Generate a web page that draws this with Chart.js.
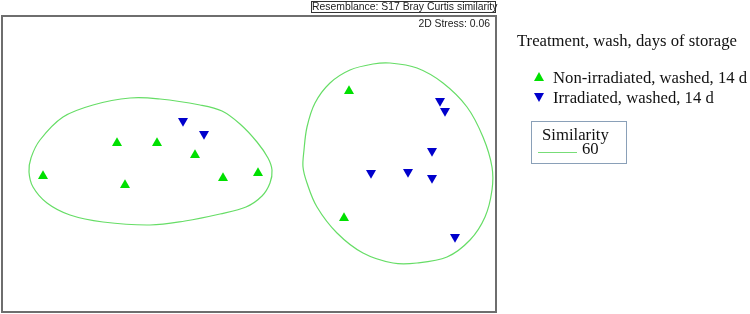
<!DOCTYPE html>
<html>
<head>
<meta charset="utf-8">
<script src="https://cdn.jsdelivr.net/npm/chart.js@4"></script>
<style>
  html, body { margin: 0; padding: 0; background: #fff; }
  #wrap { position: relative; width: 750px; height: 314px; overflow: hidden; }
  canvas { position: absolute; left: 0; top: 0; }
  .sans { position: absolute; font-family: "Liberation Sans", Arial, sans-serif; font-size: 10.4px; line-height: 10px; color: #222; white-space: nowrap; }
  .serif { position: absolute; font-family: "Liberation Serif", "Times New Roman", serif; font-size: 16.7px; line-height: 17px; color: #111; white-space: nowrap; }
  #resem { left: 311px; top: 1px; width: 183px; height: 10px; border: 1px solid #333; text-align: center; }
  #stress { right: 260px; top: 19px; }
  .tri-up { position: absolute; width: 0; height: 0; border-left: 5.5px solid transparent; border-right: 5.5px solid transparent; border-bottom: 9px solid #00e000; }
  .tri-down { position: absolute; width: 0; height: 0; border-left: 5.5px solid transparent; border-right: 5.5px solid transparent; border-top: 9px solid #0000cc; }
  #simbox { position: absolute; left: 531px; top: 121px; width: 94px; height: 41px; border: 1px solid #8aa0b8; }
  #simline { position: absolute; left: 538px; top: 152px; width: 39px; height: 1px; background: #77dd77; }
</style>
</head>
<body>
<div id="wrap">
  <canvas id="c" width="750" height="314"></canvas>
  <div class="sans" id="resem">Resemblance: S17 Bray Curtis similarity</div>
  <div class="sans" id="stress">2D Stress: 0.06</div>
  <div class="serif" style="left:517px; top:32px;">Treatment, wash, days of storage</div>
  <div class="tri-up" style="left:534px; top:72px;"></div>
  <div class="serif" style="left:553px; top:69px;">Non-irradiated, washed, 14 d</div>
  <div class="tri-down" style="left:534px; top:93px;"></div>
  <div class="serif" style="left:553px; top:89px;">Irradiated, washed, 14 d</div>
  <div id="simbox"></div>
  <div class="serif" style="left:542px; top:126px;">Similarity</div>
  <div id="simline"></div>
  <div class="serif" style="left:582px; top:140px;">60</div>
</div>
<script>
// nMDS coordinates (arbitrary units)
const nonIrrX = [-1.32, -0.92, -0.54, -2.06, -1.24, -0.26, 0.09, 1.00, 0.95];
const nonIrrY = [0.21, 0.21, 0.09, -0.12, -0.21, -0.14, -0.09, 0.73, -0.54];
const irrX = [-0.66, -0.45, 1.91, 1.96, 1.83, 1.22, 1.59, 1.83, 2.06];
const irrY = [0.43, 0.30, 0.63, 0.53, 0.13, -0.09, -0.08, -0.14, -0.73];

// similarity 60 contours
const contourAX = [-2.20, -2.18, -2.09, -1.86, -1.56, -1.19, -0.89, -0.49, -0.27, -0.09, 0.08, 0.19, 0.23, 0.21, 0.13, -0.03, -0.29, -0.64, -0.99, -1.46, -1.79, -2.02, -2.16];
const contourAY = [-0.08, 0.06, 0.24, 0.47, 0.59, 0.66, 0.65, 0.59, 0.53, 0.40, 0.22, 0.06, -0.06, -0.19, -0.32, -0.43, -0.50, -0.57, -0.61, -0.58, -0.51, -0.39, -0.23];
const contourBX = [0.55, 0.58, 0.66, 0.81, 1.01, 1.24, 1.41, 1.68, 1.94, 2.18, 2.34, 2.43, 2.43, 2.36, 2.21, 1.98, 1.68, 1.44, 1.14, 0.88, 0.68, 0.58, 0.54];
const contourBY = [0.14, 0.37, 0.61, 0.81, 0.94, 1.00, 1.01, 0.96, 0.81, 0.57, 0.27, -0.03, -0.26, -0.53, -0.76, -0.93, -0.99, -0.99, -0.89, -0.69, -0.43, -0.19, -0.03];

const seriesNames = ['Non-irradiated, washed, 14 d', 'Irradiated, washed, 14 d'];

const toPts = (xs, ys) => xs.map((x, i) => ({ x: x, y: ys[i] }));

const contourPlugin = {
  id: 'contours',
  beforeDatasetsDraw(chart) {
    const { ctx, scales: { x, y } } = chart;
    const draw = (xs, ys) => {
      const P = xs.map((v, i) => [x.getPixelForValue(v), y.getPixelForValue(ys[i])]);
      const n = P.length;
      ctx.beginPath();
      ctx.moveTo(P[0][0], P[0][1]);
      for (let i = 0; i < n; i++) {
        const p0 = P[(i - 1 + n) % n], p1 = P[i], p2 = P[(i + 1) % n], p3 = P[(i + 2) % n];
        const c1x = p1[0] + (p2[0] - p0[0]) / 6, c1y = p1[1] + (p2[1] - p0[1]) / 6;
        const c2x = p2[0] - (p3[0] - p1[0]) / 6, c2y = p2[1] - (p3[1] - p1[1]) / 6;
        ctx.bezierCurveTo(c1x, c1y, c2x, c2y, p2[0], p2[1]);
      }
      ctx.closePath();
      ctx.save();
      ctx.strokeStyle = '#66dd66';
      ctx.lineWidth = 1.2;
      ctx.stroke();
      ctx.restore();
    };
    draw(contourAX, contourAY);
    draw(contourBX, contourBY);
  },
  afterDraw(chart) {
    const { ctx, chartArea: a } = chart;
    ctx.save();
    ctx.strokeStyle = '#6e6e6e';
    ctx.lineWidth = 2;
    ctx.strokeRect(a.left, a.top, a.right - a.left, a.bottom - a.top);
    ctx.restore();
  }
};

new Chart(document.getElementById('c'), {
  type: 'scatter',
  data: {
    datasets: [
      { label: seriesNames[0], data: toPts(nonIrrX, nonIrrY), pointStyle: 'triangle', rotation: 0,
        pointRadius: 5.8, backgroundColor: '#00e000', borderColor: '#00e000', borderWidth: 0 },
      { label: seriesNames[1], data: toPts(irrX, irrY), pointStyle: 'triangle', rotation: 180,
        pointRadius: 5.8, backgroundColor: '#0000cc', borderColor: '#0000cc', borderWidth: 0 }
    ]
  },
  options: {
    responsive: false,
    animation: false,
    layout: { autoPadding: false, padding: { left: 2, top: 16, right: 254, bottom: 2 } },
    plugins: { legend: { display: false }, tooltip: { enabled: false } },
    scales: {
      x: { type: 'linear', min: -2.47, max: 2.47, display: false },
      y: { type: 'linear', min: -1.48, max: 1.48, display: false }
    }
  },
  plugins: [contourPlugin]
});
</script>
</body>
</html>
